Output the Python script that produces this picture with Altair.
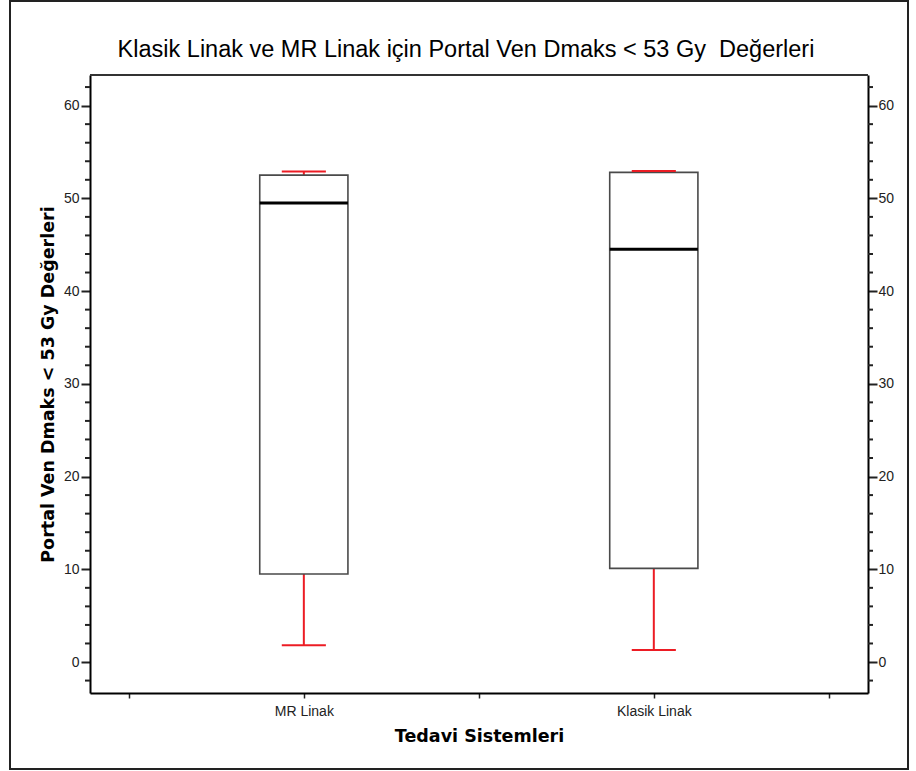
import altair as alt
import pandas as pd

# Box plot summary per treatment system
systems = ["MR Linak", "Klasik Linak"]
whisker_low = [1.8, 1.3]
q1 = [9.5, 10.1]
median = [49.5, 44.5]
q3 = [52.5, 52.8]
whisker_high = [52.9, 52.95]

# Axis tick values
y_major = [0, 10, 20, 30, 40, 50, 60]
y_minor = [v for v in range(-2, 64, 2) if v % 10 != 0]
x_ticks = [0.5, 1, 1.5, 2, 2.5]

# Non-breaking space keeps the double gap before the last word
TITLE = "Klasik Linak ve MR Linak için Portal Ven Dmaks < 53 Gy \u00a0Değerleri"

df = pd.DataFrame({
    "sistem": systems,
    "pos": [i + 1 for i in range(len(systems))],
    "low": whisker_low,
    "q1": q1,
    "med": median,
    "q3": q3,
    "high": whisker_high,
})
minor_df = pd.DataFrame({"v": y_minor})

BOX_HALF = 0.126
CAP_HALF = 0.063
RED = "#ec1c24"
W, H = 778, 618

x_scale = alt.Scale(domain=[0.389, 2.612], nice=False, zero=False)
y_scale = alt.Scale(domain=[-3.34, 63.3], nice=False, zero=False)

label_expr = " : ".join(
    f"datum.value == {i + 1} ? '{s}'" for i, s in enumerate(systems)
) + " : ''"

x_axis = alt.Axis(
    values=x_ticks, labelExpr=label_expr, grid=False,
    tickSize=5, tickWidth=1.5, tickColor="#222",
    domainColor="#000", domainWidth=2,
    labelFont="Liberation Sans", labelFontSize=14, labelColor="#222",
    labelPadding=6, labelOverlap=False, labelFlush=False,
    title="Tedavi Sistemleri", titleFont="DejaVu Sans", titleFontSize=17.5,
    titleFontWeight="bold", titleColor="#000",
    titleX=W / 2, titleY=43, titleBaseline="middle", titleAlign="center",
)

axis_common = dict(
    values=y_major, grid=False, tickSize=9, tickWidth=2, tickColor="#222",
    domainColor="#000", domainWidth=2,
    labelFont="Liberation Sans", labelFontSize=14, labelColor="#222",
)
left_axis = alt.Axis(
    orient="left", labelPadding=2, **axis_common,
    title="Portal Ven Dmaks < 53 Gy Değerleri", titleFont="DejaVu Sans",
    titleFontSize=17.5, titleFontWeight="bold", titleColor="#000",
    titleX=-42, titleY=H / 2, titleAngle=270, titleAlign="center",
    titleBaseline="middle",
)
right_axis = alt.Axis(orient="right", labelPadding=1, title=None, **axis_common)

base = alt.Chart(df).transform_calculate(
    x_lo=f"datum.pos - {BOX_HALF}",
    x_hi=f"datum.pos + {BOX_HALF}",
    c_lo=f"datum.pos - {CAP_HALF}",
    c_hi=f"datum.pos + {CAP_HALF}",
)

upper_whisker = base.mark_rule(color=RED, strokeWidth=2).encode(
    x=alt.X("pos:Q", scale=x_scale, axis=x_axis),
    y=alt.Y("q3:Q", scale=y_scale, axis=None),
    y2="high:Q",
)
lower_whisker = base.mark_rule(color=RED, strokeWidth=2).encode(
    x=alt.X("pos:Q", scale=x_scale, axis=x_axis),
    y=alt.Y("low:Q", scale=y_scale, axis=None),
    y2="q1:Q",
)
box = base.mark_rect(fill="white", stroke="#4a4a4a", strokeWidth=1.6).encode(
    x=alt.X("x_lo:Q", scale=x_scale, axis=x_axis),
    x2="x_hi:Q",
    y=alt.Y("q1:Q", scale=y_scale, axis=left_axis),
    y2="q3:Q",
)
median_line = base.mark_rule(color="#000", strokeWidth=3).encode(
    x=alt.X("x_lo:Q", scale=x_scale, axis=x_axis),
    x2="x_hi:Q",
    y=alt.Y("med:Q", scale=y_scale, axis=right_axis),
)
cap_low = base.mark_rule(color=RED, strokeWidth=2).encode(
    x=alt.X("c_lo:Q", scale=x_scale, axis=x_axis),
    x2="c_hi:Q",
    y=alt.Y("low:Q", scale=y_scale, axis=None),
)
cap_high = base.mark_rule(color=RED, strokeWidth=2).encode(
    x=alt.X("c_lo:Q", scale=x_scale, axis=x_axis),
    x2="c_hi:Q",
    y=alt.Y("high:Q", scale=y_scale, axis=None),
)

# Minor ticks on both vertical axes
minor_left = alt.Chart(minor_df).mark_rule(color="#222", strokeWidth=2).encode(
    x=alt.value(-5), x2=alt.value(0),
    y=alt.Y("v:Q", scale=y_scale, axis=None),
)
minor_right = alt.Chart(minor_df).mark_rule(color="#222", strokeWidth=2).encode(
    x=alt.value(W), x2=alt.value(W + 5),
    y=alt.Y("v:Q", scale=y_scale, axis=None),
)

single = alt.Data(values=[{}])

# Top edge of the plot frame
top_edge = alt.Chart(single).mark_rule(color="#333", strokeWidth=2).encode(
    x=alt.value(0), x2=alt.value(W), y=alt.value(0)
)

# Chart title, centred above the plot
title_text = alt.Chart(single).mark_text(
    text=TITLE, font="Liberation Sans", fontSize=23.5, color="#000",
    align="center", baseline="middle",
).encode(x=alt.value(376), y=alt.value(-25))

# Outer border around the whole figure
frame = alt.Chart(single).mark_rect(
    fill="transparent", stroke="#222", strokeWidth=2
).encode(
    x=alt.value(-80), x2=alt.value(818), y=alt.value(-74), y2=alt.value(694)
)

chart = alt.layer(
    upper_whisker, lower_whisker, box, median_line, cap_low, cap_high,
    minor_left, minor_right, top_edge, title_text, frame,
).resolve_axis(y="independent").properties(
    width=W,
    height=H,
    autosize=alt.AutoSizeParams(type="none"),
    padding={"left": 90, "top": 75, "right": 48, "bottom": 78},
).configure_view(stroke=None).configure(background="white")

chart.save("out.html", embed_options={"renderer": "svg", "actions": False})
